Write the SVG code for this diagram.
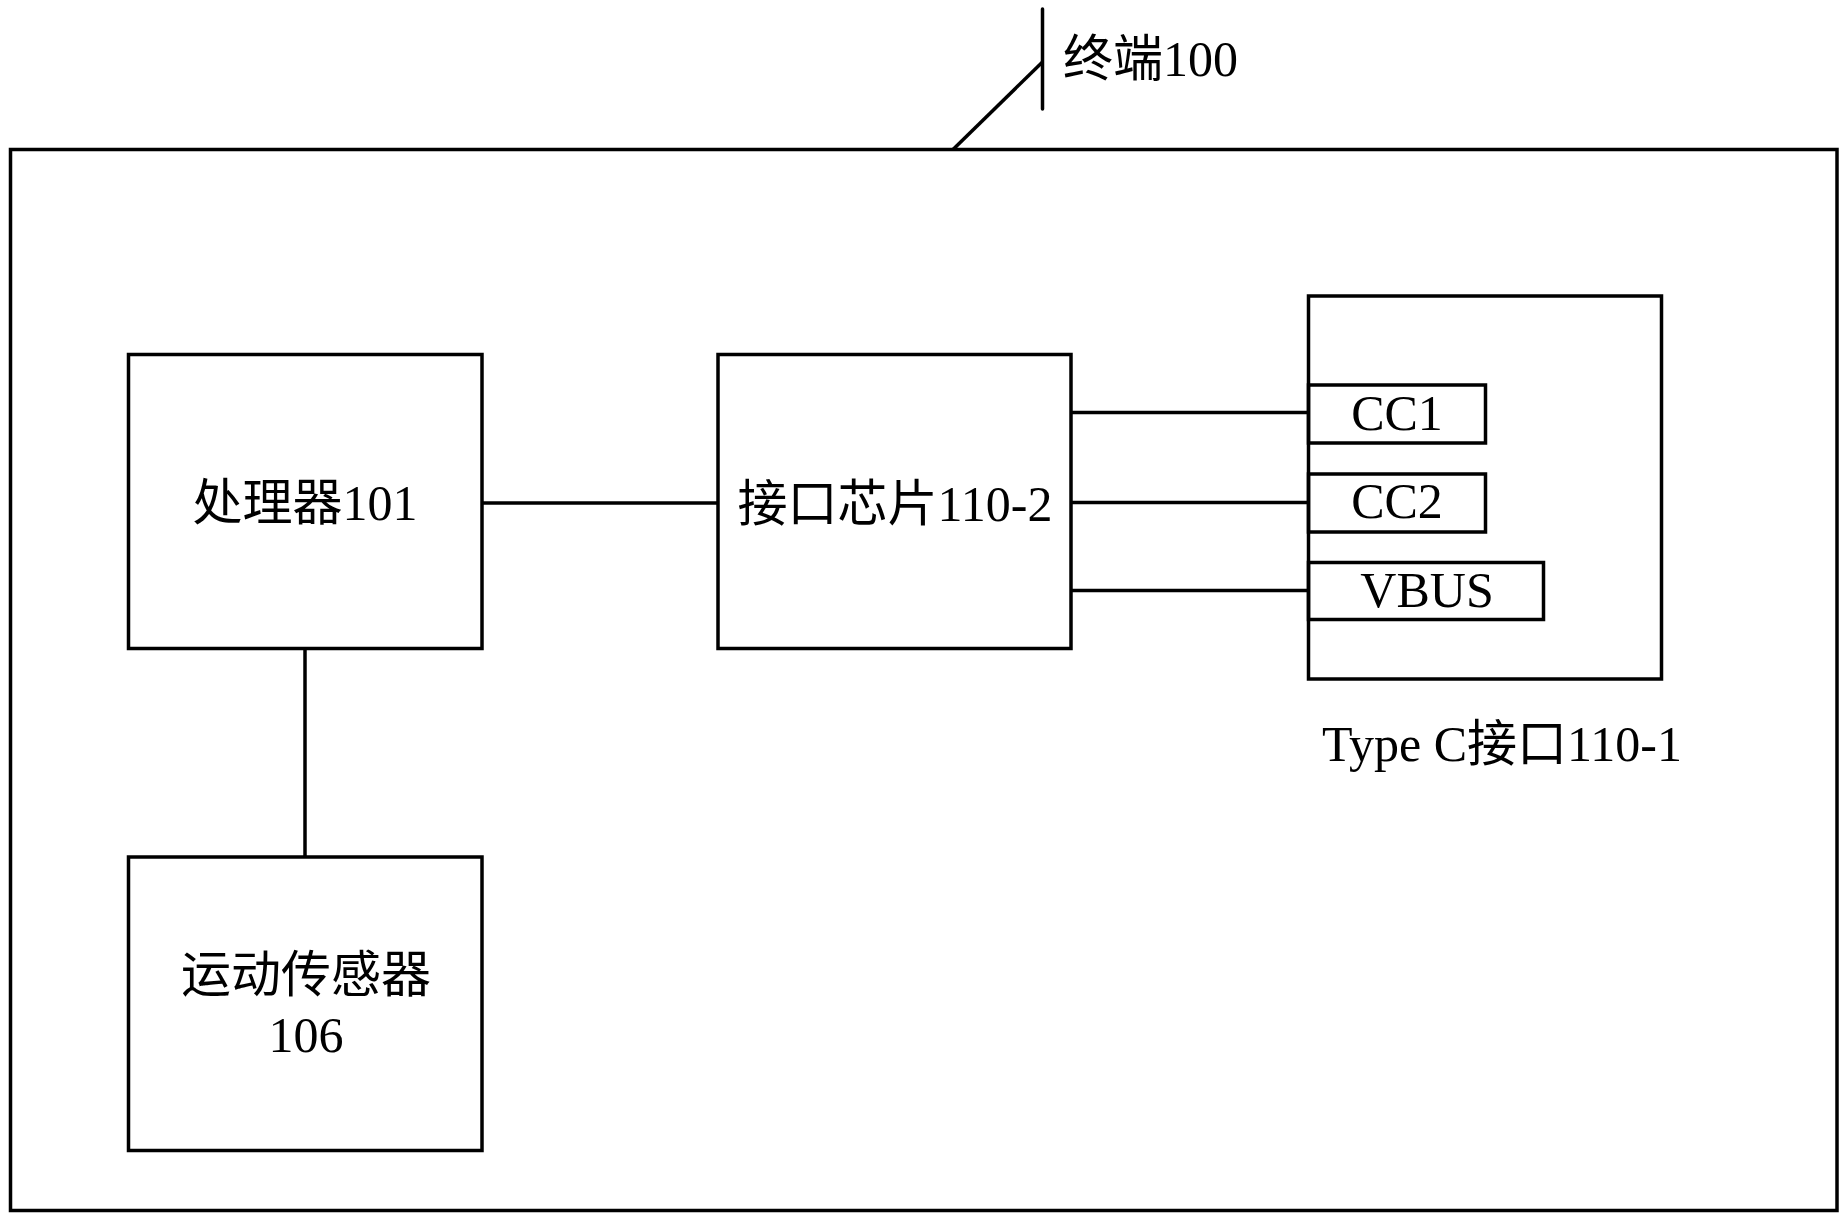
<svg xmlns="http://www.w3.org/2000/svg" width="1848" height="1224" viewBox="0 0 1848 1224">
<style>
.box{fill:none;stroke:#000;stroke-width:3.5}
.ln{fill:none;stroke:#000;stroke-width:3.5}
text{font-family:"Liberation Serif","Noto Sans CJK SC",serif;font-size:50px;fill:#000}
.c{text-anchor:middle}
</style>
<rect width="1848" height="1224" fill="#fff"/>
<g id="terminal">
<rect class="box" x="10.5" y="149.5" width="1826.5" height="1061"/>
<text x="1063" y="76" font-size="48">终端100</text>
</g>
<g id="processor">
<rect class="box" x="128.5" y="354.5" width="353.5" height="294"/>
<text class="c" x="305" y="520">处理器101</text>
</g>
<g id="chip">
<rect class="box" x="718" y="354.5" width="353" height="294"/>
<text class="c" x="895" y="521">接口芯片110-2</text>
</g>
<g id="typec">
<rect class="box" x="1308.5" y="296" width="353" height="383"/>
<text x="1322" y="761" font-size="48">Type C接口110-1</text>
</g>
<g id="cc1">
<rect class="box" x="1308.5" y="385" width="177" height="58"/>
<text class="c" x="1397" y="430">CC1</text>
</g>
<g id="cc2">
<rect class="box" x="1308.5" y="474" width="177" height="58"/>
<text class="c" x="1397" y="518">CC2</text>
</g>
<g id="vbus">
<rect class="box" x="1308.5" y="562.5" width="235" height="57"/>
<text class="c" x="1427" y="607">VBUS</text>
</g>
<g id="sensor">
<rect class="box" x="128.5" y="857" width="353.5" height="293.5"/>
<text class="c" x="306" y="992">运动传感器</text>
<text class="c" x="306" y="1052">106</text>
</g>
<g id="connectors">
<path class="ln" d="M953 149.5 L1042.5 62"/>
<path class="ln" d="M1042.5 9 V109" stroke-linecap="round"/>
<path class="ln" d="M482 503 H718"/>
<path class="ln" d="M1071 412.5 H1308.5"/>
<path class="ln" d="M1071 502.5 H1308.5"/>
<path class="ln" d="M1071 590.5 H1308.5"/>
<path class="ln" d="M305 648.5 V857"/>
</g>
</svg>
